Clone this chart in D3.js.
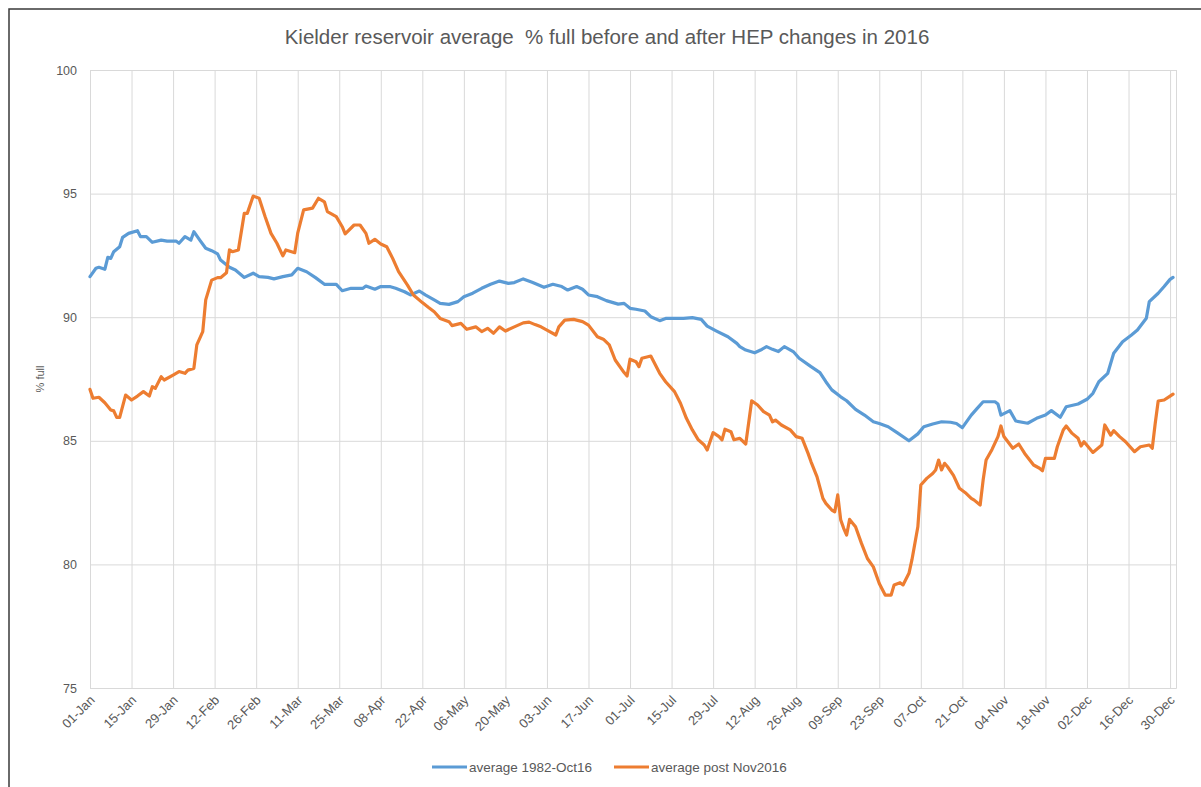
<!DOCTYPE html>
<html>
<head>
<meta charset="utf-8">
<script src="https://cdn.jsdelivr.net/npm/d3@7"></script>
<style>
  html, body { margin: 0; padding: 0; background: #fff; }
  svg { display: block; }
</style>
</head>
<body>
<svg id="chart" width="1201" height="787"></svg>
<script>
// ---- Data (day of year 2016, 0 = 01-Jan) ----
const titleText = "Kielder reservoir average  % full before and after HEP changes in 2016";
const yAxisTitle = "% full";
const seriesNames = ["average 1982-Oct16", "average post Nov2016"];
const seriesColors = ["#5B9BD5", "#ED7D31"];
const yTicks = [75, 80, 85, 90, 95, 100];
const tickLabels = ["01-Jan","15-Jan","29-Jan","12-Feb","26-Feb","11-Mar","25-Mar","08-Apr","22-Apr",
  "06-May","20-May","03-Jun","17-Jun","01-Jul","15-Jul","29-Jul","12-Aug","26-Aug","09-Sep",
  "23-Sep","07-Oct","21-Oct","04-Nov","18-Nov","02-Dec","16-Dec","30-Dec"];

const blueDays = [0,2,3,5,6,7,8,10,11,13,16,17,19,21,24,26,29,30,32,34,35,37,39,41,43,44,47,49,52,55,57,60,62,65,68,70,73,76,79,83,85,88,92,93,96,98,101,103,106,108,111,113,116,118,121,124,126,129,132,135,138,141,143,146,149,153,156,159,161,164,166,168,171,174,178,180,182,184,187,189,192,194,198,200,203,206,208,211,215,218,219,221,224,226,228,230,232,234,237,239,243,246,248,250,253,255,258,261,264,266,269,272,276,279,281,284,287,290,292,294,297,299,301,305,306,307,310,312,316,319,322,324,327,329,333,336,338,340,343,345,348,351,353,356,357,360,362,364,365];
const blueValues = [91.64,91.98,92.02,91.94,92.42,92.38,92.65,92.85,93.23,93.39,93.5,93.26,93.26,93.03,93.12,93.08,93.08,92.99,93.26,93.12,93.46,93.12,92.79,92.69,92.56,92.31,92.02,91.91,91.61,91.78,91.64,91.61,91.55,91.64,91.71,91.98,91.84,91.6,91.33,91.33,91.07,91.17,91.17,91.26,91.13,91.24,91.24,91.17,91.03,90.9,91.06,90.9,90.7,90.56,90.52,90.63,90.83,90.97,91.17,91.33,91.46,91.37,91.4,91.55,91.41,91.21,91.33,91.24,91.1,91.24,91.13,90.9,90.83,90.67,90.53,90.56,90.36,90.32,90.25,90.02,89.86,89.95,89.95,89.95,89.98,89.91,89.64,89.45,89.21,88.94,88.81,88.67,88.56,88.67,88.81,88.7,88.61,88.81,88.61,88.34,88.0,87.76,87.39,87.06,86.78,86.62,86.27,86.04,85.77,85.7,85.57,85.33,85.0,85.28,85.57,85.68,85.77,85.75,85.7,85.53,86.04,86.31,86.58,86.58,86.49,86.04,86.22,85.8,85.71,85.91,86.04,86.22,85.95,86.38,86.49,86.68,86.92,87.39,87.73,88.54,89.01,89.28,89.48,89.96,90.63,90.97,91.24,91.53,91.61];

const orangeDays = [0,1,3,5,7,8,9,10,12,14,16,18,20,21,22,24,25,28,30,32,33,35,36,38,39,41,43,44,46,47,48,50,52,53,55,57,59,61,63,65,66,69,70,72,75,77,79,80,83,85,86,89,91,93,94,96,98,100,102,104,107,109,112,114,116,118,121,122,125,127,130,132,134,136,138,140,143,146,148,150,152,154,157,158,160,163,166,168,171,173,175,177,180,181,182,184,185,186,189,190,192,194,197,199,201,203,205,207,208,210,212,213,214,216,217,219,221,223,225,227,229,230,231,233,236,238,240,242,243,245,247,248,250,251,252,253,254,255,256,258,260,262,264,266,268,270,271,273,274,276,277,279,280,282,284,285,286,287,288,289,291,293,295,297,298,300,301,302,304,306,307,308,311,313,315,318,320,321,322,325,326,328,329,331,333,334,335,338,341,342,344,345,347,349,352,354,357,358,359,360,362,364,365];
const orangeValues = [87.08,86.72,86.76,86.54,86.25,86.21,85.95,85.95,86.85,86.65,86.81,86.99,86.81,87.19,87.12,87.59,87.46,87.66,87.8,87.73,87.86,87.93,88.88,89.42,90.7,91.5,91.6,91.6,91.8,92.72,92.65,92.72,94.2,94.2,94.9,94.81,94.07,93.39,92.99,92.48,92.72,92.61,93.4,94.34,94.41,94.81,94.67,94.27,94.07,93.66,93.37,93.73,93.73,93.39,92.99,93.15,92.96,92.85,92.38,91.84,91.3,90.9,90.59,90.4,90.22,89.95,89.82,89.66,89.75,89.51,89.61,89.42,89.55,89.35,89.61,89.44,89.61,89.77,89.8,89.7,89.61,89.48,89.28,89.61,89.88,89.91,89.82,89.68,89.21,89.11,88.88,88.27,87.76,87.62,88.3,88.2,88.0,88.34,88.43,88.2,87.73,87.39,86.99,86.52,85.91,85.44,85.04,84.83,84.63,85.33,85.17,85.04,85.47,85.37,85.04,85.1,84.87,86.62,86.45,86.18,86.04,85.77,85.84,85.64,85.44,85.17,85.1,84.49,84.15,83.55,82.67,82.47,82.2,82.13,82.81,81.8,81.46,81.19,81.82,81.52,80.85,80.24,79.9,79.23,78.76,78.76,79.17,79.26,79.17,79.64,80.18,81.52,83.21,83.48,83.68,83.82,84.22,83.82,84.09,83.95,83.6,83.08,82.9,82.67,82.6,82.4,83.41,84.22,84.65,85.17,85.6,85.17,84.7,84.87,84.49,84.02,83.89,83.79,84.29,84.29,84.76,85.44,85.6,85.3,85.1,84.79,84.96,84.53,84.83,85.64,85.23,85.41,85.17,84.96,84.56,84.76,84.83,84.7,85.71,86.61,86.65,86.81,86.89];

// ---- Build ----
const svg = d3.select("#chart");
const start = new Date(Date.UTC(2016, 0, 1));
const end = new Date(Date.UTC(2017, 0, 1));
const plot = { left: 90, right: 1176, top: 70, bottom: 688 };

const x = d3.scaleUtc().domain([start, end]).range([plot.left, plot.right]);
const y = d3.scaleLinear().domain([75, 100]).range([plot.bottom, plot.top]);
const parse = d3.utcParse("%d-%b-%Y");
const tickDates = tickLabels.map(l => parse(l + "-2016"));

const textColor = "#595959";
const font = "'Liberation Sans', Arial, sans-serif";

// frame
svg.append("rect").attr("x", 9).attr("y", 9).attr("width", 1260).attr("height", 900)
  .attr("fill", "none").attr("stroke", "#3a3a3a").attr("stroke-width", 1.5);

// title
svg.append("text").attr("x", 607).attr("y", 44).attr("text-anchor", "middle")
  .attr("font-family", font).attr("font-size", 20.5).attr("fill", textColor)
  .style("white-space", "pre").text(titleText);

// horizontal gridlines + y labels
const gY = svg.append("g").attr("transform", `translate(${plot.left},0)`)
  .call(d3.axisLeft(y).tickValues(yTicks).tickSize(-(plot.right - plot.left)).tickPadding(13).tickFormat(d3.format("d")));
gY.select(".domain").remove();
gY.selectAll(".tick line").attr("stroke", "#d9d9d9").attr("stroke-width", 1);
gY.selectAll(".tick text").attr("fill", textColor).attr("font-family", font).attr("font-size", 12.5);

// vertical gridlines + x labels
const gX = svg.append("g").attr("transform", `translate(0,${plot.bottom})`)
  .call(d3.axisBottom(x).tickValues(tickDates).tickSize(-(plot.bottom - plot.top)).tickFormat((d, i) => tickLabels[i]));
gX.select(".domain").attr("stroke", "#d9d9d9");
gX.selectAll(".tick line").attr("stroke", "#d9d9d9").attr("stroke-width", 1);
gX.selectAll(".tick text").attr("fill", textColor).attr("font-family", font).attr("font-size", 13)
  .attr("text-anchor", "end").attr("dy", null).attr("y", 0)
  .attr("transform", "translate(5,13) rotate(-45)");

// y axis title
svg.append("text").attr("transform", `translate(44,${(plot.top + plot.bottom) / 2}) rotate(-90)`)
  .attr("text-anchor", "middle").attr("font-family", font).attr("font-size", 11).attr("fill", textColor)
  .text(yAxisTitle);

// lines
const line = d3.line().x(d => x(d3.utcDay.offset(start, d.day))).y(d => y(d.v));
const series = [
  blueDays.map((d, i) => ({ day: d, v: blueValues[i] })),
  orangeDays.map((d, i) => ({ day: d, v: orangeValues[i] }))
];
series.forEach((s, i) => {
  svg.append("path").datum(s).attr("d", line).attr("fill", "none")
    .attr("stroke", seriesColors[i]).attr("stroke-width", 3.2).attr("stroke-linejoin", "round").attr("stroke-linecap", "round");
});

// legend
const legendX = [432, 614];
seriesNames.forEach((name, i) => {
  const g = svg.append("g").attr("transform", `translate(${legendX[i]},767)`);
  g.append("line").attr("x1", 0).attr("x2", 35).attr("y1", 0).attr("y2", 0)
    .attr("stroke", seriesColors[i]).attr("stroke-width", 3);
  g.append("text").attr("x", 37).attr("y", 4.5).attr("font-family", font).attr("font-size", 13.5)
    .attr("fill", textColor).text(name);
});
</script>
</body>
</html>
